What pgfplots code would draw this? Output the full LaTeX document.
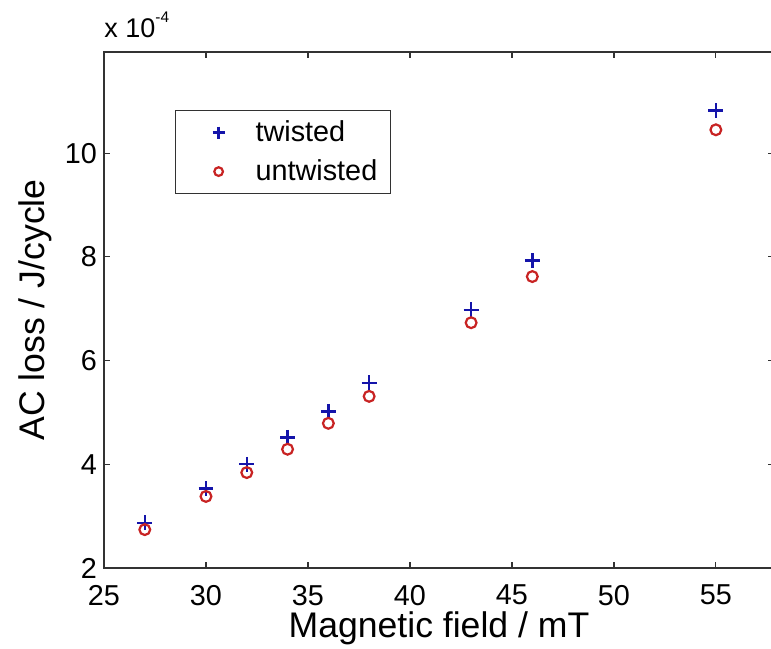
\documentclass[border=0pt]{standalone}
\usepackage{fontspec}
\setmainfont{Liberation Sans}
\usepackage{pgfplots}
\pgfplotsset{compat=1.18}
\definecolor{mblue}{RGB}{20,20,170}
\definecolor{mred}{RGB}{200,35,35}
\definecolor{axgray}{RGB}{50,50,50}
\begin{document}
\begin{tikzpicture}
\useasboundingbox (-52pt,-40pt) rectangle (333.5pt,284pt);
\clip (-52pt,-40pt) rectangle (333.5pt,284pt);
\begin{axis}[
  at={(0pt,0pt)}, anchor=south west,
  scale only axis, width=335pt, height=258pt,
  xmin=25, xmax=57.85, ymin=2e-4, ymax=11.95e-4,
  xtick={25,30,...,55}, ytick={2e-4,4e-4,6e-4,8e-4,10e-4},
  scaled y ticks=base 10:4,
  /pgf/number format/assume math mode=true,
  tick label style={font=\fontsize{14.4}{16}\selectfont},
  xticklabel style={yshift=-5pt},
  axis line style={axgray, line width=0.6pt},
  tick style={axgray, line width=0.6pt},
  tick align=inside, major tick length=3pt,
  xlabel={Magnetic field / mT}, ylabel={AC loss / J/cycle},
  label style={font=\fontsize{17.8}{20}\selectfont},
  xlabel style={at={(axis description cs:0.5,-0.1163)}, anchor=center},
  ylabel style={at={(axis description cs:-0.103,0.5)}, anchor=center},
  every y tick scale label/.style={at={(rel axis cs:0,1)}, anchor=base west, yshift=7pt, inner sep=0pt, font=\fontsize{13.5}{15}\selectfont},
  ytick scale label code/.code={x 10\raisebox{7.5pt}{\fontsize{7.7}{8}\selectfont -4}},
  legend style={at={(axis description cs:0.106,0.8876)}, anchor=north west, draw=axgray, line width=0.6pt, inner xsep=6.5pt, inner ysep=1.25pt, row sep=0pt, column sep=0pt, font=\fontsize{14.4}{16}\selectfont, nodes={inner sep=0pt, anchor=west}},
  legend cell align=left,
  legend image code/.code={\path[draw=none,fill=none] (-15pt,-9.75pt) rectangle (18.5pt,9.75pt); \draw[#1,/tikz/mark options={scale=0.8}] plot coordinates {(0pt,0pt)};},
]
\addplot[only marks, mark=+, mark size=3.7pt, mblue, line width=1.2pt] coordinates {
(27,2.87e-4) (30,3.53e-4) (32,4.00e-4) (34,4.52e-4) (36,5.02e-4) (38,5.57e-4) (43,6.98e-4) (46,7.93e-4) (55,10.82e-4)};
\addlegendentry{twisted}
\addplot[only marks, mark=o, mark size=2.7pt, mred, line width=1.1pt] coordinates {
(27,2.74e-4) (30,3.38e-4) (32,3.84e-4) (34,4.29e-4) (36,4.79e-4) (38,5.31e-4) (43,6.73e-4) (46,7.62e-4) (55,10.45e-4)};
\addlegendentry{untwisted}
\end{axis}
\end{tikzpicture}
\end{document}
